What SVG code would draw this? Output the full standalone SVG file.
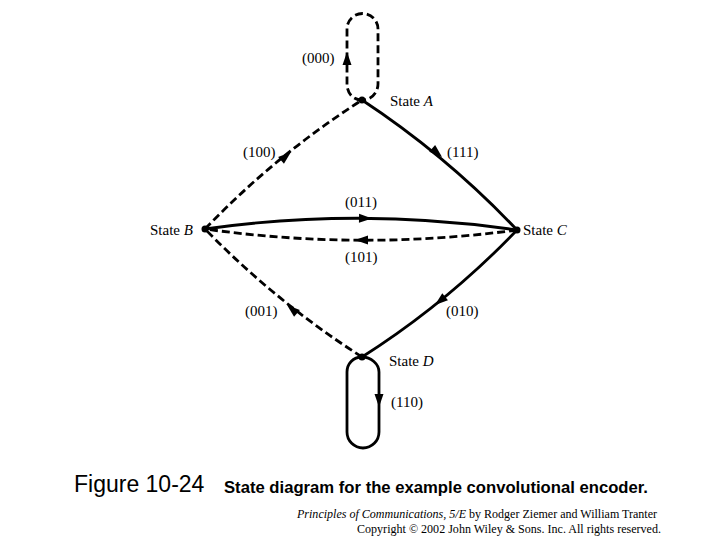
<svg xmlns="http://www.w3.org/2000/svg" width="720" height="540" viewBox="0 0 720 540">
<defs>
<style>
.e{fill:none;stroke:#000;stroke-width:2.8}
.d{stroke-dasharray:8,4}
.l{font-family:"Liberation Serif","Times New Roman",serif;font-size:15px;fill:#000}
.cap{font-family:"Liberation Sans",Arial,sans-serif;fill:#000}
.ft{font-family:"Liberation Serif","Times New Roman",serif;font-size:12px;fill:#000}
</style>
<path id="ah" d="M0,0 L-13,-4.5 L-13,4.5 Z" fill="#000"/>
</defs>
<rect width="720" height="540" fill="#fff"/>
<g id="connectors">
<path class="e d" d="M362,100 C352,100 347,92 347,84 L347,29 A15.5,15.5 0 0 1 378,29 L378,84 C378,92 372,100 362,100"/>
<use href="#ah" transform="translate(347,52) rotate(-90)"/>
<path class="e d" d="M205,229 Q276,155 362,100"/>
<use href="#ah" transform="translate(291,152) rotate(-40)"/>
<path class="e" d="M362,100 Q447,156 517,230"/>
<use href="#ah" transform="translate(442,157) rotate(41)"/>
<path class="e" d="M205,229 Q361,207 517,230"/>
<use href="#ah" transform="translate(372,218.5) rotate(1)"/>
<path class="e d" d="M517,230 Q361,251 205,229"/>
<use href="#ah" transform="translate(355,240) rotate(180)"/>
<path class="e d" d="M362,357 Q276,302 205,229"/>
<use href="#ah" transform="translate(287,305) rotate(220)"/>
<path class="e" d="M517,230 Q447,303 362,357"/>
<use href="#ah" transform="translate(435,305) rotate(141)"/>
<path class="e" d="M362,357 C371,357 379,364 379,372 L379,432 A16,16 0 0 1 347,432 L347,372 C347,364 353,357 362,357"/>
<use href="#ah" transform="translate(379,407) rotate(90)"/>
</g>
<g id="nodeA"><circle cx="362" cy="100" r="3.5"/><text class="l" x="390" y="106">State <tspan font-style="italic">A</tspan></text></g>
<g id="nodeB"><circle cx="205" cy="229" r="3.5"/><text class="l" x="150" y="235">State <tspan font-style="italic">B</tspan></text></g>
<g id="nodeC"><circle cx="517" cy="230" r="3.5"/><text class="l" x="523" y="235">State <tspan font-style="italic">C</tspan></text></g>
<g id="nodeD"><circle cx="362" cy="357" r="3.5"/><text class="l" x="389" y="366">State <tspan font-style="italic">D</tspan></text></g>
<g id="labels">
<text class="l" x="302" y="63">(000)</text>
<text class="l" x="243" y="157">(100)</text>
<text class="l" x="447" y="157">(111)</text>
<text class="l" x="345" y="207">(011)</text>
<text class="l" x="345" y="262">(101)</text>
<text class="l" x="245" y="316">(001)</text>
<text class="l" x="446" y="316">(010)</text>
<text class="l" x="391" y="407">(110)</text>
</g>
<g id="caption">
<text class="cap" x="74" y="492" font-size="23">Figure 10-24</text>
<text class="cap" x="224" y="493" font-size="16.5" font-weight="bold" textLength="424" lengthAdjust="spacingAndGlyphs">State diagram for the example convolutional encoder.</text>
<text class="ft" x="297" y="518" textLength="360" lengthAdjust="spacingAndGlyphs"><tspan font-style="italic">Principles of Communications, 5/E</tspan> by Rodger Ziemer and William Tranter</text>
<text class="ft" x="357" y="533" textLength="304" lengthAdjust="spacingAndGlyphs">Copyright © 2002 John Wiley &amp; Sons. Inc. All rights reserved.</text>
</g>
</svg>
